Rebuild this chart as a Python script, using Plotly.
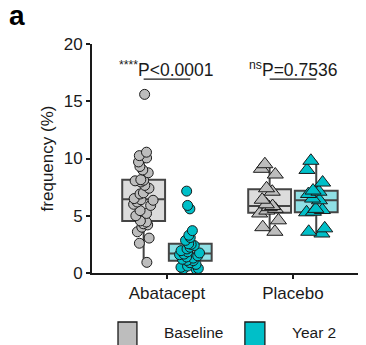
import plotly.graph_objects as go

categories = ["Abatacept", "Placebo"]
groups = ["Baseline", "Year 2"]

abatacept_baseline = [0.93, 2.6, 3.05, 3.6, 4.0, 4.2, 4.3, 4.45, 4.55, 5.0, 5.2, 5.45, 5.9, 6.0, 6.2, 6.35,
                      6.4, 6.5, 6.9, 7.0, 7.4, 7.65, 7.95, 8.05, 8.1, 8.15, 8.75, 9.0, 9.3, 9.7, 10.05,
                      10.25, 10.55, 15.6]
abatacept_year2 = [0.3, 0.35, 0.4, 0.5, 0.6, 0.75, 0.9, 1.08, 1.1, 1.2, 1.3, 1.4, 1.5, 1.6, 1.65,
                   1.75, 1.85, 1.95, 2.1, 2.25, 2.4, 2.5, 2.55, 2.85, 3.1, 3.3, 3.7, 5.6, 5.9, 7.15]
placebo_baseline = [3.6, 4.0, 4.6, 5.2, 5.45, 5.6, 5.75, 5.85, 6.0, 6.4, 7.1, 7.4, 8.6, 9.1, 9.5]
placebo_year2 = [3.45, 3.6, 3.9, 5.3, 5.35, 5.5, 5.6, 6.35, 6.5, 6.9, 7.1, 7.2, 7.9, 9.0, 9.8]

p_labels = ["<sup>****</sup>P<0.0001", "<sup>ns</sup>P=0.7536"]
y_ticks = [0, 5, 10, 15, 20]

data = {
    ("Abatacept", "Baseline"): abatacept_baseline,
    ("Abatacept", "Year 2"): abatacept_year2,
    ("Placebo", "Baseline"): placebo_baseline,
    ("Placebo", "Year 2"): placebo_year2,
}

point_color = {"Baseline": "#bdbdbd", "Year 2": "#00bfc8"}
box_fill = {"Baseline": "#dcdcdc", "Year 2": "#8fe0e5"}
symbols = {"Abatacept": "circle", "Placebo": "triangle-up"}
msize = {"Abatacept": 10, "Placebo": 14}
offset = {"Baseline": -0.185, "Year 2": 0.185}
FONT = "Liberation Sans, Arial, sans-serif"

fig = go.Figure()
for ci, cat in enumerate(categories):
    for g in groups:
        vals = data[(cat, g)]
        pos = ci + 1 + offset[g]
        fig.add_trace(go.Box(
            y=vals, x=[pos] * len(vals), width=0.34,
            boxpoints="all", jitter=0.55, pointpos=0, whiskerwidth=0,
            fillcolor=box_fill[g],
            line=dict(color="#454545", width=2),
            marker=dict(symbol=symbols[cat], size=msize[cat], color=point_color[g],
                        line=dict(color="#1a1a1a", width=1)),
            showlegend=False, hoverinfo="skip",
        ))

shapes = []
annotations = []
for ci, cat in enumerate(categories):
    c = ci + 1
    shapes.append(dict(type="line", xref="x", yref="y", x0=c + offset["Baseline"], x1=c + offset["Year 2"],
                       y0=16.94, y1=16.94, line=dict(color="#1a1a1a", width=1.3)))
    annotations.append(dict(xref="x", yref="y", x=c, y=16.94, yanchor="bottom", yshift=-3,
                            text=p_labels[ci], showarrow=False,
                            font=dict(family=FONT, size=17.5, color="#1a1a1a")))

# legend drawn as boxes + labels
leg = [(0.0949, 0.164, 0.255, "Baseline"), (0.558, 0.631, 0.723, "Year 2")]
for x0, x1, xt, g in leg:
    shapes.append(dict(type="rect", xref="paper", yref="paper", x0=x0, x1=x1, y0=-0.34, y1=-0.214,
                       fillcolor=point_color[g], line=dict(color="#1a1a1a", width=1.3)))
    annotations.append(dict(xref="paper", yref="paper", x=xt, y=-0.262, xanchor="left", yanchor="middle",
                            text=g, showarrow=False, font=dict(family=FONT, size=15.5, color="#1a1a1a")))

annotations.append(dict(xref="paper", yref="paper", x=-0.274, y=1.05, xanchor="center", yanchor="bottom",
                        text="<b>a</b>", showarrow=False, font=dict(family=FONT, size=28, color="#000")))

fig.update_layout(
    width=358, height=337,
    margin=dict(l=84, r=0, t=36, b=72),
    paper_bgcolor="white", plot_bgcolor="white",
    font=dict(family=FONT, size=17, color="#1a1a1a"),
    shapes=shapes, annotations=annotations,
    xaxis=dict(range=[0.405, 2.58], tickvals=[1, 2], ticktext=categories,
               showgrid=False, zeroline=False, showline=True, linecolor="#1a1a1a", linewidth=1.8,
               ticks="outside", ticklen=4, tickwidth=1.5, tickcolor="#1a1a1a",
               tickfont=dict(size=17)),
    yaxis=dict(range=[0, 20], tickvals=y_ticks, showgrid=False, zeroline=False,
               showline=True, linecolor="#1a1a1a", linewidth=1.8,
               ticks="outside", ticklen=4, tickwidth=1.5, tickcolor="#1a1a1a",
               tickfont=dict(size=17),
               title=dict(text="frequency (%)", font=dict(size=17), standoff=6)),
)

fig.write_html("out.html")
